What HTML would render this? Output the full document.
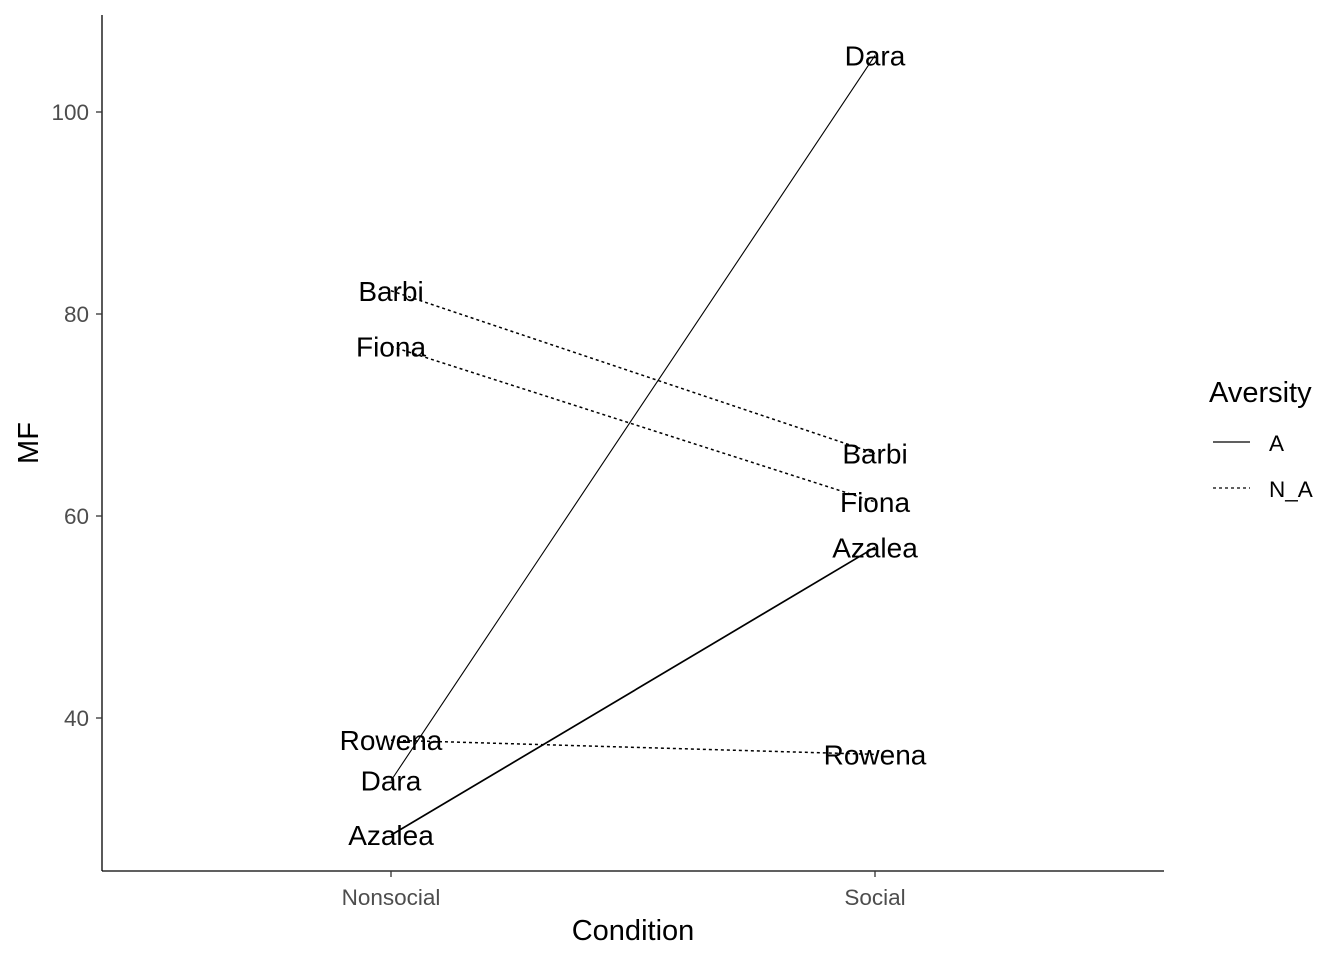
<!DOCTYPE html>
<html><head><meta charset="utf-8"><style>
body{margin:0;background:#fff;}
svg text{font-family:"Liberation Sans",Arial,sans-serif;}
</style></head><body>
<svg id="chart" width="1344" height="960">
<g id="axes"></g><g id="marks"></g><g id="labels"></g>
<text x="633" y="940" text-anchor="middle" font-size="29">Condition</text>
<text transform="translate(38,443) rotate(-90)" text-anchor="middle" font-size="29">MF</text>
<g>
<text x="1209" y="402" font-size="29">Aversity</text>
<line x1="1213" y1="442" x2="1250" y2="442" stroke="#000" stroke-width="1.3"/>
<text x="1269" y="451" font-size="22.5">A</text>
<line x1="1213" y1="488" x2="1250" y2="488" stroke="#000" stroke-width="1.3" stroke-dasharray="3,3"/>
<text x="1269" y="497" font-size="22.5">N_A</text>
</g>
</svg>
<script>
const categories = ["Nonsocial", "Social"];
const names = ["Dara", "Azalea", "Barbi", "Fiona", "Rowena"];
const aversity = ["A", "A", "N_A", "N_A", "N_A"];
const nonsocialValues = [33.8, 28.4, 82.3, 76.8, 37.8];
const socialValues = [105.6, 56.9, 66.2, 61.4, 36.4];
const yTicks = [40, 60, 80, 100];

const NS = "http://www.w3.org/2000/svg";
const xPos = i => 391 + i * 484;
const yPos = v => 112 + (100 - v) * 10.1;
function mk(tag, attrs, parent){const e=document.createElementNS(NS,tag);for(const k in attrs)e.setAttribute(k,attrs[k]);parent.appendChild(e);return e;}
const axes=document.getElementById('axes'),marks=document.getElementById('marks'),labels=document.getElementById('labels');

let a=mk('line',{x1:102,y1:15,x2:102,y2:871,stroke:'#000','stroke-width':1.3},axes);


a=mk('line',{x1:102,y1:871,x2:1164,y2:871,stroke:'#000','stroke-width':1.3},axes);


yTicks.forEach(t=>{
  const y=yPos(t);
  const l=mk('line',{x1:96,y1:y,x2:102,y2:y,stroke:'#333','stroke-width':1.3},axes);
  
  
  const tx=mk('text',{x:89,y:y+8,'text-anchor':'end','font-size':22.5,fill:'#4d4d4d'},axes);
  tx.textContent=t;
  
  
});
categories.forEach((c,i)=>{
  const x=xPos(i);
  const l=mk('line',{x1:x,y1:871,x2:x,y2:877,stroke:'#333','stroke-width':1.3},axes);
  
  
  const tx=mk('text',{x:x,y:905,'text-anchor':'middle','font-size':22.5,fill:'#4d4d4d'},axes);
  tx.textContent=c;
  
  
});
names.forEach((n,i)=>{
  const attrs={x1:xPos(0),y1:yPos(nonsocialValues[i]),x2:xPos(1),y2:yPos(socialValues[i]),stroke:'#000','stroke-width':n==='Azalea'?1.7:(aversity[i]==='A'?1.1:1.5)};
  if(aversity[i]!=='A')attrs['stroke-dasharray']='3,3';
  const l=mk('line',attrs,marks);
  
  
  [nonsocialValues[i],socialValues[i]].forEach((v,j)=>{
    const t=mk('text',{x:xPos(j),y:yPos(v)+10,'text-anchor':'middle','font-size':28},labels);
    t.textContent=n;
    
    
  });
});
</script>
</body></html>
